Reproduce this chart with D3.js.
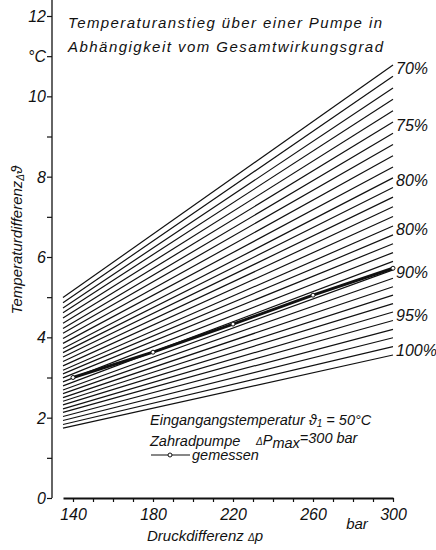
<!DOCTYPE html>
<html><head><meta charset="utf-8">
<script src="https://cdn.jsdelivr.net/npm/d3@7"></script>
<style>
body{margin:0;background:#fff;}
svg text{font-family:"Liberation Sans","DejaVu Sans",sans-serif;font-style:italic;fill:#111;}
</style></head><body>
<svg id="c" width="436" height="550"></svg>
<script>
// Fan of lines: value at start (135 bar) and end (300 bar), η = 70 % ... 100 %
const pStart = 135, pEnd = 300;
const valStart = [4.99,4.86,4.73,4.61,4.48,4.35,4.22,4.10,3.97,3.85,3.72,3.62,3.51,3.40,3.29,3.18,3.09,2.99,2.89,2.79,2.69,2.60,2.50,2.41,2.32,2.22,2.13,2.03,1.93,1.83,1.74];
const valEnd   = [10.78,10.50,10.21,9.93,9.64,9.36,9.08,8.80,8.52,8.24,7.97,7.73,7.49,7.25,7.01,6.77,6.55,6.33,6.11,5.89,5.68,5.47,5.26,5.05,4.84,4.63,4.42,4.20,3.99,3.77,3.56];
// measured curve
const measP = [140,180,220,260,300];
const measV = [3.00,3.63,4.33,5.05,5.72];
// right-hand labels (line index they mark)
const etaLabels = ["70%","75%","80%","80%","90%","95%","100%"];
const etaIndex  = [0,5,10,15,20,25,30];
const yTicks = [0,1,2,3,4,5,6,7,8,9,10,11,12];
const xTicks = [140,150,160,170,180,190,200,210,220,230,240,250,260,270,280,290,300];
const xLabelTicks = [140,180,220,260,300];

const svg = d3.select("#c");
const x = d3.scaleLinear().domain([135,300]).range([63,393]);
const y = d3.scaleLinear().domain([0,12]).range([498,16]);

// y axis
const yAx = svg.append("g").attr("transform","translate(52,0)")
  .call(d3.axisLeft(y).tickValues(yTicks).tickSize(5).tickSizeOuter(0)
    .tickFormat(d => d%2===0 ? d : (d===11 ? "°C" : "")));
yAx.select(".domain").remove();
yAx.selectAll("line").attr("stroke","#111").attr("stroke-width",1.2);
yAx.selectAll("text").attr("font-size",16).attr("x",-6).attr("dy","0.35em");
svg.append("line").attr("x1",52).attr("x2",52).attr("y1",0).attr("y2",y(0))
  .attr("stroke","#111").attr("stroke-width",1.3);

// x axis
const xAx = svg.append("g").attr("transform",`translate(0,${y(0)})`)
  .call(d3.axisBottom(x).tickValues(xTicks).tickSize(4).tickSizeOuter(0)
    .tickFormat(d => xLabelTicks.includes(d) ? d : ""));
xAx.select(".domain").attr("stroke","#111").attr("stroke-width",2);
xAx.selectAll("line").attr("stroke","#111").attr("stroke-width",1.2);
xAx.selectAll("text").attr("font-size",16).attr("dy","0.95em");

// fan lines
const line = d3.line().x(d=>x(d[0])).y(d=>y(d[1]));
svg.append("g").selectAll("path").data(valStart.map((v,i)=>[[pStart,v],[pEnd,valEnd[i]]]))
  .join("path").attr("d",line).attr("fill","none").attr("stroke","#111").attr("stroke-width",1.2);

// measured line
const meas = measP.map((p,i)=>[p,measV[i]]);
svg.append("path").attr("d",line(meas)).attr("fill","none").attr("stroke","#111").attr("stroke-width",3);
svg.append("g").selectAll("circle").data(meas).join("circle")
  .attr("cx",d=>x(d[0])).attr("cy",d=>y(d[1])).attr("r",2)
  .attr("fill","#fff").attr("stroke","#111").attr("stroke-width",1);

// right labels
svg.append("g").selectAll("text").data(etaLabels).join("text")
  .attr("x",396).attr("y",(d,i)=>y(valEnd[etaIndex[i]]) + (i===6 ? -5 : 3))
  .attr("dy","0.35em").attr("font-size",16).text(d=>d);

// title
svg.append("text").attr("x",68).attr("y",28).attr("font-size",15).attr("textLength",314)
  .text("Temperaturanstieg  über einer Pumpe in");
svg.append("text").attr("x",68).attr("y",52).attr("font-size",15).attr("textLength",315)
  .text("Abhängigkeit vom Gesamtwirkungsgrad");

// axis titles
svg.append("text").attr("transform","translate(22,240) rotate(-90)")
  .attr("text-anchor","middle").attr("font-size",15)
  .html('Temperaturdifferenz<tspan font-size="10" dy="2">Δ</tspan><tspan font-size="15" dy="-2">ϑ</tspan>');
svg.append("text").attr("x",205).attr("y",541).attr("text-anchor","middle").attr("font-size",15)
  .html('Druckdifferenz <tspan font-size="10">Δ</tspan>p');
svg.append("text").attr("x",357).attr("y",529).attr("text-anchor","middle").attr("font-size",15).text("bar");

// legend text
svg.append("text").attr("x",150).attr("y",425).attr("font-size",14.5)
  .html('Eingangangstemperatur ϑ<tspan font-size="10" dy="2">1</tspan><tspan dy="-2"> = 50°C</tspan>');
svg.append("text").attr("x",150).attr("y",446).attr("font-size",14.5).text("Zahradpumpe");
svg.append("text").attr("x",256).attr("y",445).attr("font-size",14.5)
  .html('<tspan font-size="10">Δ</tspan>P<tspan dy="3">max</tspan><tspan dy="-5">=300 bar</tspan>');
svg.append("line").attr("x1",151).attr("x2",190).attr("y1",455).attr("y2",455).attr("stroke","#111").attr("stroke-width",1.2);
svg.append("circle").attr("cx",170).attr("cy",455).attr("r",2).attr("fill","#fff").attr("stroke","#111");
svg.append("text").attr("x",192).attr("y",460).attr("font-size",14.5).text("gemessen");
</script></body></html>
